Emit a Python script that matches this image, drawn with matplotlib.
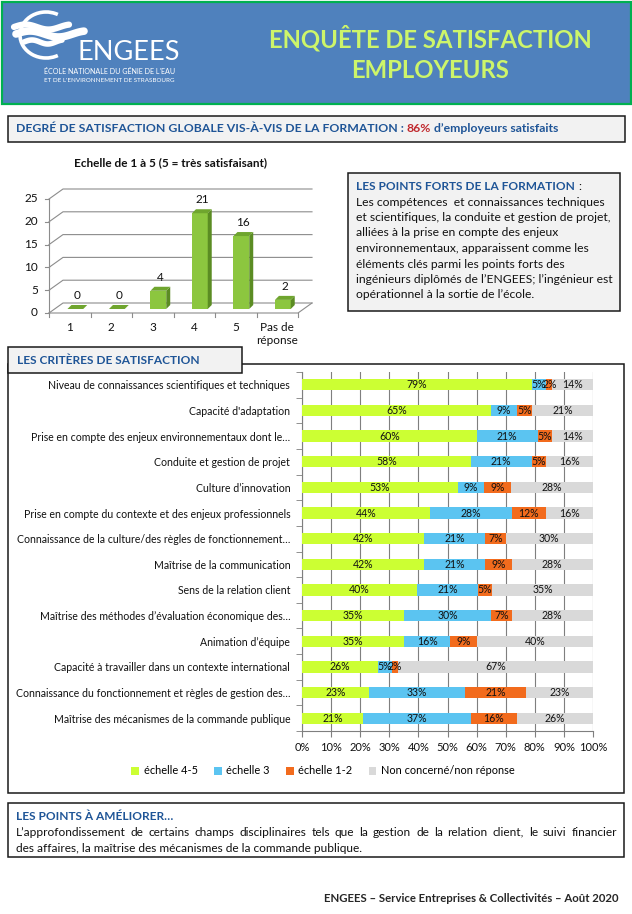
import matplotlib
matplotlib.use("Agg")
import matplotlib.pyplot as plt
from matplotlib.patches import Rectangle, Polygon, Arc
import numpy as np

W, H = 632, 914
plt.rcParams['font.family'] = ['Lato', 'DejaVu Sans']

# ---------------- data ----------------
scale_categories = ["1", "2", "3", "4", "5", "Pas de\nréponse"]
scale_counts = [0, 0, 4, 21, 16, 2]
scale_yticks = [0, 5, 10, 15, 20, 25]

criteria = [
    "Niveau de connaissances scientifiques et techniques",
    "Capacité d'adaptation",
    "Prise en compte des enjeux environnementaux dont le…",
    "Conduite et gestion de projet",
    "Culture d’innovation",
    "Prise en compte du contexte et des enjeux professionnels",
    "Connaissance de la culture/des règles de fonctionnement…",
    "Maîtrise de la communication",
    "Sens de la relation client",
    "Maîtrise des méthodes d’évaluation économique des…",
    "Animation d’équipe",
    "Capacité à travailler dans un contexte international",
    "Connaissance du fonctionnement et règles de gestion des…",
    "Maîtrise des mécanismes de la commande publique",
]
pct_high = [79, 65, 60, 58, 53, 44, 42, 42, 40, 35, 35, 26, 23, 21]
pct_mid = [5, 9, 21, 21, 9, 28, 21, 21, 21, 30, 16, 5, 33, 37]
pct_low = [2, 5, 5, 5, 9, 12, 7, 9, 5, 7, 9, 2, 21, 16]
pct_none = [14, 21, 14, 16, 28, 16, 30, 28, 35, 28, 40, 67, 23, 26]
series_names = ["échelle 4-5", "échelle 3", "échelle 1-2", "Non concerné/non réponse"]
pct_ticks = [0, 10, 20, 30, 40, 50, 60, 70, 80, 90, 100]

# ---------------- styles ----------------
BLUE_HDR = '#4F81BD'
TITLE_YG = '#CDF56A'
DARKBLUE = '#1F5597'
EDGE = '#1a1a1a'
TXT = '#111111'
series_colors = ['#CCFF33', '#5BC4F1', '#F26B1D', '#D9D9D9']

fig = plt.figure(figsize=(W / 100, H / 100), dpi=100)
fig.patch.set_facecolor('white')
page = fig.add_axes([0, 0, 1, 1], zorder=0)
page.set_xlim(0, W)
page.set_ylim(H, 0)
page.axis('off')
renderer = fig.canvas.get_renderer()


def rect(x0, y0, x1, y1):
    return [x0 / W, 1 - y1 / H, (x1 - x0) / W, (y1 - y0) / H]


def box(x0, y0, x1, y1, fc, ec=EDGE, lw=1.1, z=1):
    page.add_patch(Rectangle((x0, y0), x1 - x0, y1 - y0, facecolor=fc,
                             edgecolor=ec, lw=lw, zorder=z))


def width_of(t):
    return t.get_window_extent(renderer=renderer).width


def seq_text(x, y, parts, gap=3.0, **kw):
    for s, c in parts:
        t = page.text(x, y, s, color=c, va='center', ha='left', **kw)
        x += width_of(t) + gap
    return x


def justify(x0, x1, y, text, **kw):
    words = text.split()
    ts = [page.text(0, y, w, va='center', ha='left', **kw) for w in words]
    ws = [width_of(t) for t in ts]
    gap = (x1 - x0 - sum(ws)) / (len(words) - 1)
    x = x0
    for t, w in zip(ts, ws):
        t.set_x(x)
        x += w + gap


def fit_text(x0, x1, y, text, size, **kw):
    t = page.text(x0, y, text, va='center', ha='left', fontsize=size, **kw)
    t.set_fontsize(size * (x1 - x0) / width_of(t))
    return t


# ---------------- header ----------------
box(1.5, 1.5, W - 1.5, 104, BLUE_HDR, ec='#00B050', lw=1.6)
page.text(430, 38, "ENQUÊTE DE SATISFACTION", color=TITLE_YG, fontsize=17.2,
          fontweight='bold', ha='center', va='center')
page.text(430, 70, "EMPLOYEURS", color=TITLE_YG, fontsize=17.2,
          fontweight='bold', ha='center', va='center')

# logo
page.add_patch(Arc((46, 35), 52, 46, theta1=60, theta2=300, color='white', lw=2.6))
tt = np.linspace(0, 1, 60)
for x0, length, yo, amp, lw in [(14, 55, 27, 2.5, 4.5), (16, 68, 34, 3.0, 5.5),
                                (24, 38, 42, 2.0, 4.0)]:
    xs = x0 + length * tt
    ys = yo - amp * np.sin(tt * 2 * np.pi * 1.2)
    page.plot(xs, ys, color='white', lw=lw, solid_capstyle='round')
page.text(77, 52, "ENGEES", color='white', fontsize=19.5, ha='left', va='center',
          fontweight='normal')
fit_text(44, 176, 71, "ÉCOLE NATIONALE DU GÉNIE DE L'EAU", 5.0, color='white')
fit_text(44, 176, 80, "ET DE L'ENVIRONNEMENT DE STRASBOURG", 5.0, color='white')

# ---------------- global satisfaction banner ----------------
box(8, 116, 625, 142, '#F2F2F2')
seq_text(16, 129, [("DEGRÉ DE SATISFACTION GLOBALE VIS-À-VIS DE LA FORMATION :", DARKBLUE),
                   ("86%", '#C0282D'), ("d’employeurs satisfaits", DARKBLUE)],
         fontsize=8.85, fontweight='bold')

# ---------------- 3D bar chart ----------------
page.text(170, 163, "Echelle de 1 à 5 (5 = très satisfaisant)", fontsize=8.5,
          fontweight='bold', ha='center', va='center', color=TXT)
ax1 = fig.add_axes(rect(49, 189, 312, 313), zorder=2)
ax1.set_facecolor('none')
ax1.axis('off')
n = len(scale_counts)
px_x = 41.5
px_y = 114 / 25
ddx, ddy = 14 / px_x, 10 / px_y
ax1.set_xlim(0, n + ddx)
ax1.set_ylim(0, scale_yticks[-1] + ddy)
GRID = '#8C8C8C'
for v in scale_yticks:
    ax1.plot([0, ddx, n + ddx], [v, v + ddy, v + ddy], color=GRID, lw=0.8, clip_on=False)
    ax1.plot([-0.1, 0], [v, v], color=GRID, lw=0.8, clip_on=False)
    ax1.text(-0.27, v, str(v), ha='right', va='center', fontsize=8.5, color=TXT)
ax1.plot([0, n, n + ddx], [0, 0, ddy], color=GRID, lw=0.8, clip_on=False)
ax1.plot([0, 0], [0, scale_yticks[-1]], color=GRID, lw=0.8, clip_on=False)
for i in range(n + 1):
    ax1.plot([i, i], [0, -0.9], color=GRID, lw=0.8, clip_on=False)
bf, bw = 0.4, 0.38
bdx, bdy = 4 / px_x, 4 / px_y
base = bf * ddy
xcs = np.arange(n) + 0.5 + bf * ddx
ax1.bar(xcs, scale_counts, width=bw, bottom=base, color='#8CC63F', zorder=3)
for xc, v in zip(xcs, scale_counts):
    xl, xr = xc - bw / 2, xc + bw / 2
    ax1.add_patch(Polygon([(xr, base), (xr + bdx, base + bdy), (xr + bdx, base + v + bdy),
                           (xr, base + v)], closed=True, facecolor='#5B8C23', lw=0, zorder=3))
    ax1.add_patch(Polygon([(xl, base + v), (xl + bdx, base + v + bdy),
                           (xr + bdx, base + v + bdy), (xr, base + v)], closed=True,
                          facecolor='#6FA52E', lw=0, zorder=3))
    ax1.text(xc + bdx / 2, base + v + bdy + 0.9, str(v), ha='center', va='bottom',
             fontsize=8.5, color=TXT)
for i, lab in enumerate(scale_categories):
    ax1.text(i + 0.5, -2.0, lab, ha='center', va='top', fontsize=8.5, color=TXT,
             linespacing=1.25)

# ---------------- points forts ----------------
box(348, 173, 620, 311, '#F2F2F2')
x = seq_text(356, 186, [("LES POINTS FORTS DE LA FORMATION", DARKBLUE)], fontsize=8.6,
             fontweight='bold')
page.text(x, 186, ":", fontsize=8.6, va='center', color=TXT)
forts_lines = [
    "Les compétences  et connaissances techniques",
    "et scientifiques, la conduite et gestion de projet,",
    "alliées à la prise en compte des enjeux",
    "environnementaux, apparaissent comme les",
    "éléments clés parmi les points forts des",
    "ingénieurs diplômés de l’ENGEES; l’ingénieur est",
    "opérationnel à la sortie de l’école.",
]
for k, line in enumerate(forts_lines):
    page.text(356, 202 + k * 15.5, line, fontsize=8.7, va='center', ha='left', color=TXT)

# ---------------- criteria ----------------
box(8, 364, 624, 793, 'white', z=1)
box(8, 347, 242, 373, '#F2F2F2', z=2)
page.text(17, 360, "LES CRITÈRES DE SATISFACTION", fontsize=8.6, fontweight='bold',
          color=DARKBLUE, va='center', zorder=3)

ax2 = fig.add_axes(rect(302, 372, 593, 731), zorder=2)
ax2.set_facecolor('none')
rows = np.arange(len(criteria))
series = [np.array(pct_high), np.array(pct_mid), np.array(pct_low), np.array(pct_none)]
totals = sum(series)
left = np.zeros(len(criteria))
handles = []
for vals, col, name in zip(series, series_colors, series_names):
    wdt = vals / totals * 100
    h = ax2.barh(rows, wdt, left=left, height=0.44, color=col, label=name, zorder=3)
    handles.append(h)
    for r, (l, w_, v) in enumerate(zip(left, wdt, vals)):
        ax2.text(l + w_ / 2, r, f"{v}%", ha='center', va='center', fontsize=7.6,
                 color=TXT, zorder=4)
    left = left + wdt
ax2.set_xlim(0, 100)
ax2.set_ylim(len(criteria) - 0.5, -0.5)
ax2.set_axisbelow(True)
ax2.xaxis.grid(True, color='#7F7F7F', lw=0.8)
for s in ['top', 'right']:
    ax2.spines[s].set_visible(False)
for s in ['left', 'bottom']:
    ax2.spines[s].set_color('#7F7F7F')
    ax2.spines[s].set_linewidth(0.8)
ax2.set_xticks(pct_ticks)
ax2.set_xticklabels([f"{t}%" for t in pct_ticks], fontsize=8.0, color=TXT)
ax2.tick_params(axis='x', length=4, color='#7F7F7F', pad=4)
ax2.set_yticks(rows)
ax2.set_yticklabels(criteria, fontsize=7.6, color=TXT)
ax2.tick_params(axis='y', length=0, pad=8.5)
ax2.set_yticks(np.arange(len(criteria) + 1) - 0.5, minor=True)
ax2.tick_params(axis='y', which='minor', length=4, color='#7F7F7F')
fig.legend(handles=handles, loc='center', bbox_to_anchor=(323 / W, 1 - 771 / H), ncol=4,
           frameon=False, fontsize=7.9, handlelength=0.7, handleheight=0.7,
           handletextpad=0.4, columnspacing=1.5)

# ---------------- points à améliorer ----------------
box(8, 803, 624, 857, 'white')
page.text(16, 816, "LES POINTS À AMÉLIORER…", fontsize=8.6, fontweight='bold',
          color=DARKBLUE, va='center')
justify(16, 617, 832, "L’approfondissement de certains champs disciplinaires tels que la "
        "gestion de la relation client,  le suivi financier", fontsize=8.6, color=TXT)
page.text(16, 848, "des affaires, la maîtrise des mécanismes de la commande publique.",
          fontsize=8.6, va='center', color=TXT)

page.text(618, 898, "ENGEES – Service Entreprises & Collectivités – Août 2020",
          fontsize=8.2, fontweight='bold', ha='right', va='center', color='#262626')

fig.savefig("out.png", dpi=100)
